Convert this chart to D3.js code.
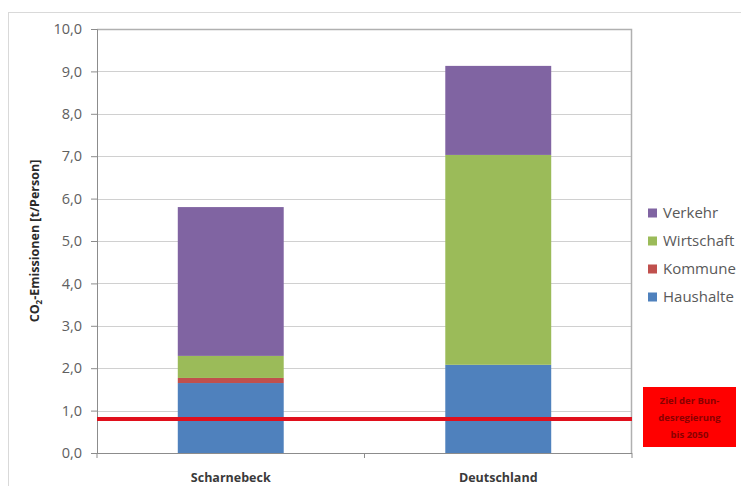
<!DOCTYPE html>
<html>
<head>
<meta charset="utf-8">
<script src="https://cdn.jsdelivr.net/npm/d3@7"></script>
<style>
  html, body { margin: 0; padding: 0; background: #fff; }
  svg { display: block; font-family: "Open Sans", "DejaVu Sans", sans-serif; }
</style>
</head>
<body>
<svg id="chart" width="741" height="486"></svg>
<script>
// Per-capita CO2 emissions by sector (t/Person)
const categories = ["Scharnebeck", "Deutschland"];
const sectors = ["Haushalte", "Kommune", "Wirtschaft", "Verkehr"];
const haushalte = [1.65, 2.08];
const kommune = [0.12, 0.00];
const wirtschaft = [0.52, 4.95];
const verkehr = [3.51, 2.10];
const targetValue = 0.8;
const yTicks = [0, 1, 2, 3, 4, 5, 6, 7, 8, 9, 10];
const targetLabel = ["Ziel der Bun-", "desregierung", "bis 2050"];

const colors = {
  Haushalte: "#4f81bd",
  Kommune: "#c0504d",
  Wirtschaft: "#9bbb59",
  Verkehr: "#8064a2"
};

const seriesValues = { Haushalte: haushalte, Kommune: kommune, Wirtschaft: wirtschaft, Verkehr: verkehr };
const table = categories.map((c, i) => {
  const row = { category: c };
  sectors.forEach(s => row[s] = seriesValues[s][i]);
  return row;
});

const svg = d3.select("#chart");
const margin = { left: 97, right: 109, top: 29, bottom: 33 };
const W = 741, H = 486;
const plotW = W - margin.left - margin.right;
const plotH = H - margin.top - margin.bottom;
const font = "'Open Sans', 'DejaVu Sans', sans-serif";

// outer chart frame
svg.append("rect")
  .attr("x", 8.5).attr("y", 12.5)
  .attr("width", W).attr("height", H)
  .attr("fill", "none").attr("stroke", "#d9d9d9").attr("stroke-width", 1);

const g = svg.append("g").attr("transform", `translate(${margin.left},${margin.top})`);

const x = d3.scaleBand().domain(categories).range([0, plotW]).paddingInner(0.604).paddingOuter(0.302);
const y = d3.scaleLinear().domain([0, 10]).range([plotH, 0]);

// gridlines
g.append("g").selectAll("line").data(yTicks.slice(1)).join("line")
  .attr("x1", 0).attr("x2", plotW)
  .attr("y1", d => Math.round(y(d)) + 0.5).attr("y2", d => Math.round(y(d)) + 0.5)
  .attr("stroke", "#d0d0d0").attr("stroke-width", 1);

// plot area frame (top and right)
g.append("path")
  .attr("d", `M0,0.5H${plotW - 0.5}V${plotH}`)
  .attr("fill", "none").attr("stroke", "#b0b0b0").attr("stroke-width", 1.5);

// stacked bars
const stack = d3.stack().keys(sectors)(table);
g.append("g").selectAll("g").data(stack).join("g")
  .attr("fill", d => colors[d.key])
  .selectAll("rect").data(d => d).join("rect")
  .attr("x", d => x(d.data.category))
  .attr("width", x.bandwidth())
  .attr("y", d => y(d[1]))
  .attr("height", d => Math.max(0, y(d[0]) - y(d[1])));

// y axis
const yAxis = d3.axisLeft(y).tickValues(yTicks).tickSize(6).tickPadding(9)
  .tickFormat(d => d3.format(".1f")(d).replace(".", ","));
const ya = g.append("g").call(yAxis);
ya.select(".domain").attr("stroke", "#8c8c8c");
ya.selectAll(".tick line").attr("stroke", "#8c8c8c");
ya.selectAll(".tick text").attr("fill", "#606060").style("font-size", "14.5px")
  .style("font-family", font);

// x axis with tick marks at category boundaries
const xa = g.append("g").attr("transform", `translate(0,${plotH})`);
xa.append("line").attr("x1", 0).attr("x2", plotW).attr("y1", 0.5).attr("y2", 0.5).attr("stroke", "#8c8c8c");
const mid = (x(categories[0]) + x(categories[1]) + x.bandwidth()) / 2;
[0, mid, plotW].forEach(px => {
  xa.append("line").attr("x1", px).attr("x2", px).attr("y1", 0).attr("y2", 5).attr("stroke", "#8c8c8c");
});
xa.selectAll("text.cat").data(categories).join("text")
  .attr("class", "cat")
  .attr("x", d => x(d) + x.bandwidth() / 2)
  .attr("y", 29)
  .attr("text-anchor", "middle")
  .attr("fill", "#3a3a3a")
  .style("font-size", "12.5px").style("font-weight", "bold")
  .style("font-family", font)
  .text(d => d);

// y axis title
const title = svg.append("text")
  .attr("transform", `translate(39,${margin.top + plotH / 2}) rotate(-90)`)
  .attr("text-anchor", "middle")
  .attr("fill", "#2a2a2a")
  .style("font-size", "12.5px").style("font-weight", "bold")
  .style("font-family", font);
title.append("tspan").text("CO");
title.append("tspan").attr("dy", 3).style("font-size", "8px").text("2");
title.append("tspan").attr("dy", -3).text("-Emissionen [t/Person]");

// target line
g.append("line")
  .attr("x1", 0).attr("x2", plotW)
  .attr("y1", y(targetValue)).attr("y2", y(targetValue))
  .attr("stroke", "#e0101c").attr("stroke-width", 4);

// target label box
const bx = 643, by = 387, bw = 93, bh = 60;
svg.append("rect").attr("x", bx).attr("y", by).attr("width", bw).attr("height", bh).attr("fill", "#ff0000");
svg.append("g").selectAll("text").data(targetLabel).join("text")
  .attr("x", bx + bw / 2)
  .attr("y", (d, i) => by + 17 + i * 17)
  .attr("text-anchor", "middle")
  .attr("fill", "#8a0000")
  .style("font-size", "9.5px").style("font-weight", "bold")
  .style("font-family", font)
  .text(d => d);

// legend (top entry is the top of the stack)
const legendItems = sectors.slice().reverse();
const lg = svg.append("g").attr("transform", "translate(648,213)");
const li = lg.selectAll("g").data(legendItems).join("g")
  .attr("transform", (d, i) => `translate(0,${i * 28})`);
li.append("rect").attr("x", 0).attr("y", -4.5).attr("width", 9).attr("height", 9)
  .attr("fill", d => colors[d]);
li.append("text").attr("x", 15).attr("y", 0).attr("dy", "0.35em")
  .attr("fill", "#595959")
  .style("font-size", "15px")
  .style("font-family", font)
  .text(d => d);
</script>
</body>
</html>
